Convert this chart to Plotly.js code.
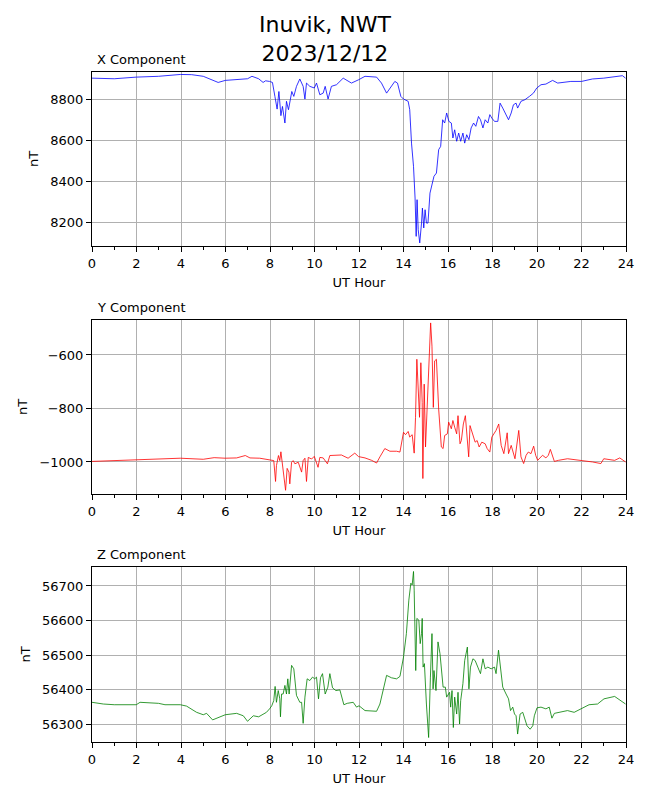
<!DOCTYPE html>
<html>
<head>
<meta charset="utf-8">
<script src="https://cdn.plot.ly/plotly-3.0.1.min.js"></script>
<style>html,body{margin:0;padding:0;background:#fff}#chart{width:650px;height:800px}</style>
</head>
<body>
<div id="chart"></div>
<script>
// ---- Data ----
const titleText = "Inuvik, NWT<br>2023/12/12";
const panelTitles = ["X Component", "Y Component", "Z Component"];
const xAxisLabel = "UT Hour";
const yAxisLabel = "nT";
const hourTicks = [0, 2, 4, 6, 8, 10, 12, 14, 16, 18, 20, 22, 24];

const xHours = [0.00,1.00,1.99,2.99,3.97,4.48,5.00,5.49,5.67,5.99,6.99,7.19,7.49,7.69,7.80,7.98,8.11,8.22,8.32,8.40,8.49,8.56,8.67,8.74,8.83,8.98,9.07,9.19,9.34,9.49,9.57,9.64,9.79,9.99,10.09,10.24,10.39,10.48,10.61,10.76,10.99,11.29,11.66,11.98,
  12.27,12.79,13.01,13.24,13.39,13.61,13.73,13.88,14.00,14.21,14.28,14.36,14.45,14.52,14.57,14.61,14.66,14.73,14.81,14.85,14.91,14.97,15.03,15.10,15.19,15.28,15.37,15.48,15.58,15.67,15.76,15.85,15.94,16.04,16.15,16.22,16.30,16.39,16.48,16.57,16.67,16.75,16.84,16.94,17.04,17.15,17.25,17.37,17.46,17.57,17.67,17.79,17.88,17.97,18.09,18.24,18.34,18.46,18.57,18.72,18.84,18.94,19.06,19.13,19.28,19.46,19.66,19.84,19.99,20.18,20.40,20.70,20.93,21.22,21.52,22.00,22.49,23.00,23.49,23.84,23.98];
const xValues = [8902,8899,8907,8911,8920,8919,8911,8889,8881,8891,8899,8911,8899,8881,8889,8886,8881,8813,8751,8837,8719,8764,8683,8789,8748,8837,8813,8862,8898,8862,8800,8878,8862,8854,8878,8821,8829,8862,8800,8862,8870,8902,8878,8894,
  8911,8907,8878,8829,8854,8886,8878,8813,8800,8789,8748,8585,8472,8317,8130,8309,8163,8098,8195,8268,8171,8260,8195,8195,8341,8390,8423,8439,8553,8569,8699,8683,8732,8691,8683,8610,8650,8594,8634,8594,8634,8585,8626,8602,8659,8683,8667,8715,8699,8659,8699,8683,8724,8707,8691,8691,8780,8756,8732,8699,8732,8772,8780,8756,8789,8797,8813,8829,8854,8870,8873,8891,8878,8881,8886,8886,8898,8902,8907,8914,8902];

const yHours = [0.00,1.00,1.99,2.99,3.97,5.00,5.49,5.99,6.50,6.89,7.10,7.54,7.98,8.17,8.25,8.29,8.38,8.44,8.49,8.56,8.64,8.70,8.77,8.85,8.89,8.97,9.04,9.12,9.27,9.42,9.49,9.57,9.64,9.72,9.87,9.99,10.16,10.24,10.39,10.58,10.69,10.99,11.21,11.51,11.81,11.98,
  12.27,12.57,12.79,12.94,13.16,13.39,13.69,13.84,14.00,14.09,14.21,14.28,14.39,14.48,14.54,14.60,14.66,14.72,14.78,14.84,14.87,14.93,14.99,15.07,15.18,15.22,15.28,15.34,15.40,15.48,15.58,15.70,15.78,15.85,15.97,16.03,16.15,16.22,16.30,16.39,16.45,16.54,16.60,16.69,16.78,16.87,16.93,16.99,17.13,17.22,17.31,17.40,17.52,17.67,17.76,17.88,17.97,18.16,18.28,18.39,18.51,18.66,18.72,18.84,19.01,19.18,19.28,19.40,19.51,19.61,19.73,19.85,19.94,20.03,20.25,20.40,20.51,20.60,20.78,20.96,21.37,22.00,22.49,22.87,23.00,23.49,23.72,23.98];
const yValues = [-998,-995,-991,-988,-986,-990,-984,-986,-985,-976,-985,-986,-991,-995,-1073,-1014,-976,-995,-962,-1007,-1051,-1106,-1024,-1038,-1082,-1001,-995,-1007,-1001,-1038,-995,-986,-1073,-983,-989,-979,-1020,-983,-985,-1007,-976,-976,-974,-986,-967,-980,
  -985,-994,-1004,-981,-950,-960,-960,-963,-889,-898,-886,-907,-898,-967,-833,-616,-746,-833,-629,-777,-1062,-709,-944,-783,-561,-480,-567,-796,-622,-616,-802,-944,-950,-901,-895,-851,-876,-845,-870,-895,-827,-932,-920,-858,-827,-920,-981,-864,-907,-926,-920,-944,-926,-932,-950,-963,-907,-882,-858,-938,-969,-891,-969,-938,-988,-882,-981,-1006,-975,-963,-969,-941,-975,-994,-975,-985,-975,-953,-998,-994,-988,-994,-1000,-1006,-988,-994,-985,-1000];

const zHours = [0.00,0.51,1.00,1.99,2.16,2.99,3.28,3.97,4.25,4.70,5.00,5.15,5.42,5.99,6.50,6.80,6.99,7.25,7.49,7.84,7.98,8.08,8.17,8.23,8.29,8.37,8.44,8.47,8.52,8.59,8.67,8.74,8.80,8.86,8.97,9.07,9.19,9.34,9.42,9.49,9.57,9.67,9.79,9.91,10.01,10.09,10.18,10.27,10.36,10.48,10.60,10.69,10.81,10.96,11.14,11.32,11.47,11.74,11.89,
  12.00,12.27,12.57,12.79,12.94,13.24,13.46,13.69,13.84,14.00,14.13,14.24,14.33,14.39,14.45,14.48,14.55,14.60,14.69,14.75,14.81,14.84,14.88,14.94,15.03,15.13,15.21,15.28,15.33,15.37,15.46,15.55,15.64,15.78,15.88,15.94,16.07,16.12,16.18,16.24,16.30,16.39,16.45,16.52,16.57,16.67,16.75,16.87,16.94,17.01,17.12,17.22,17.34,17.46,17.57,17.67,17.79,17.94,18.09,18.16,18.27,18.36,18.46,18.61,18.72,18.81,18.91,18.99,19.06,19.13,19.24,19.36,19.46,19.55,19.69,19.81,19.88,20.00,20.18,20.40,20.55,20.67,20.78,21.00,21.37,21.67,21.97,22.34,22.72,23.01,23.49,23.84,23.98];
const zValues = [56363,56358,56356,56356,56363,56360,56356,56356,56352,56334,56327,56331,56312,56327,56331,56324,56308,56324,56321,56334,56344,56353,56368,56409,56363,56397,56373,56321,56387,56387,56412,56387,56431,56387,56470,56460,56383,56363,56363,56302,56378,56431,56426,56436,56431,56436,56373,56434,56446,56387,56407,56446,56405,56397,56399,56356,56360,56363,56349,
  56353,56339,56339,56337,56358,56441,56434,56431,56438,56494,56562,56659,56708,56703,56742,56688,56455,56606,56601,56533,56562,56606,56465,56475,56358,56261,56436,56562,56402,56455,56397,56538,56504,56407,56407,56378,56392,56349,56397,56290,56378,56329,56392,56300,56368,56417,56484,56523,56402,56465,56489,56484,56465,56446,56489,56460,56465,56460,56465,56446,56514,56465,56407,56387,56373,56339,56349,56329,56324,56271,56329,56334,56315,56295,56285,56295,56324,56347,56349,56344,56349,56317,56331,56334,56339,56334,56344,56356,56358,56373,56380,56363,56358];

const yRanges = [[8083, 8932], [-1120, -469], [56248, 56755]];
const yTicks = [[8200, 8400, 8600, 8800], [-1000, -800, -600], [56300, 56400, 56500, 56600, 56700]];
const lineColors = ["#0000ff", "#ff0000", "#008000"];

// ---- Build ----
const FONT = "DejaVu Sans, Liberation Sans, sans-serif";
const series = [[xHours, xValues], [yHours, yValues], [zHours, zValues]];
const traces = series.map((s, i) => ({
  x: s[0], y: s[1], type: "scatter", mode: "lines",
  line: {color: lineColors[i], width: 0.8},
  xaxis: i === 0 ? "x" : "x" + (i + 1),
  yaxis: i === 0 ? "y" : "y" + (i + 1),
  hoverinfo: "skip"
}));

const domains = [[0.7403, 1], [0.3701, 0.6299], [0, 0.2612]];
const layout = {
  width: 650, height: 800,
  paper_bgcolor: "#fff", plot_bgcolor: "#fff",
  margin: {l: 92, r: 24, t: 72, b: 58},
  showlegend: false,
  font: {family: FONT, size: 13, color: "#000"},
  annotations: [{
    text: titleText, showarrow: false,
    xref: "paper", yref: "paper", x: (325 - 92) / 534, y: 1,
    xanchor: "center", yanchor: "bottom", yshift: 4, align: "center",
    font: {family: FONT, size: 22, color: "#000"}
  }]
};
for (let i = 0; i < 3; i++) {
  const sfx = i === 0 ? "" : String(i + 1);
  layout["xaxis" + sfx] = {
    domain: [0, 1], anchor: "y" + sfx, range: [0, 24],
    tickvals: hourTicks, ticktext: hourTicks.map(String),
    ticks: "outside", ticklen: 5, tickwidth: 1, tickcolor: "#000",
    minor: {dtick: 1, tick0: 0, ticks: "outside", ticklen: 3, tickwidth: 1, tickcolor: "#000", showgrid: false},
    showline: true, linecolor: "#000", linewidth: 1, mirror: true,
    showgrid: true, gridcolor: "#b0b0b0", gridwidth: 1,
    zeroline: false,
    tickfont: {family: FONT, size: 13, color: "#000"},
    title: {text: xAxisLabel, font: {family: FONT, size: 13, color: "#000"}, standoff: 8},
    automargin: false
  };
  layout["yaxis" + sfx] = {
    domain: domains[i], anchor: "x" + sfx, range: yRanges[i],
    tickvals: yTicks[i], tickformat: "d",
    ticks: "outside", ticklen: 5, tickwidth: 1, tickcolor: "#000",
    showline: true, linecolor: "#000", linewidth: 1, mirror: true,
    showgrid: true, gridcolor: "#b0b0b0", gridwidth: 1,
    zeroline: false,
    tickfont: {family: FONT, size: 13, color: "#000"},
    title: {text: yAxisLabel, font: {family: FONT, size: 13, color: "#000"}, standoff: 8},
    automargin: false
  };
  layout.annotations.push({
    text: panelTitles[i], showarrow: false,
    xref: "x" + sfx + " domain", yref: "y" + sfx + " domain",
    x: 0, y: 1, xanchor: "left", yanchor: "bottom", xshift: 3, yshift: 3,
    font: {family: FONT, size: 13, color: "#000"}
  });
}

Plotly.newPlot("chart", traces, layout, {staticPlot: true, displayModeBar: false});
</script>
</body>
</html>
